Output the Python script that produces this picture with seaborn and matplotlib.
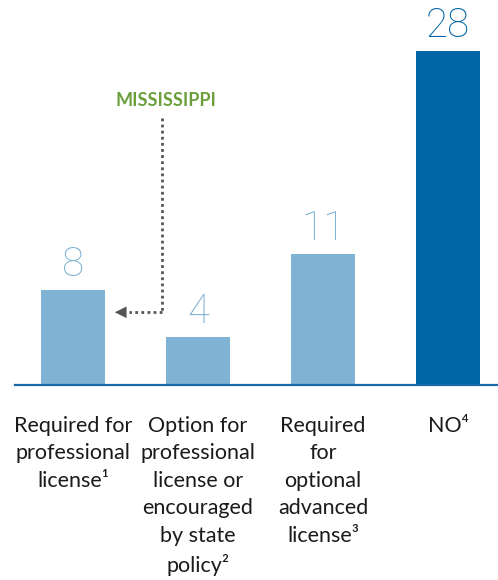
import matplotlib
matplotlib.use("Agg")
import matplotlib.pyplot as plt
import seaborn as sns
import pandas as pd

categories = [
    "Required for\nprofessional\nlicense\u00b9",
    "Option for\nprofessional\nlicense or\nencouraged\nby state\npolicy\u00b2",
    "Required\nfor\noptional\nadvanced\nlicense\u00b3",
    "NO\u2074",
]
counts = [8, 4, 11, 28]
bar_colors = ["#7fb2d3", "#7fb2d3", "#7fb2d3", "#0066a6"]
label_colors = ["#7fb2d3", "#7fb2d3", "#7fb2d3", "#0066a6"]
callout_text = "MISSISSIPPI"

sns.set_theme(style="white")
plt.rcParams["font.family"] = ["Lato", "DejaVu Sans"]

df = pd.DataFrame({"category": categories, "count": counts})

fig = plt.figure(figsize=(4.98, 5.8), dpi=100)
ax = fig.add_axes([15 / 498, 195 / 580, 483 / 498, 385 / 580])

sns.barplot(data=df, x="category", y="count", hue="category",
            palette=bar_colors, width=0.51, legend=False, ax=ax,
            saturation=1, linewidth=0)

ax.set_xlim(-0.464, 3.4)
ax.set_ylim(0, 32.3)

for i, (v, c) in enumerate(zip(counts, label_colors)):
    ax.text(i, v + 0.5, str(v), ha="center", va="bottom",
            fontsize=29, color=c, family=["Roboto", "DejaVu Sans"],
            fontweight="light")

for s in ["top", "right", "left"]:
    ax.spines[s].set_visible(False)
ax.spines["bottom"].set_color("#1a6aa8")
ax.spines["bottom"].set_linewidth(1.6)

ax.set_xlabel("")
ax.set_ylabel("")
ax.set_yticks([])
ax.tick_params(axis="x", length=0, pad=22)
for lbl in ax.get_xticklabels():
    lbl.set_fontsize(15.5)
    lbl.set_color("#1a1a1a")
    lbl.set_multialignment("center")
    lbl.set_verticalalignment("top")
    lbl.set_linespacing(1.47)

# callout: label, dotted leader and arrow pointing at the first bar
x_leader = 0.71
y_top = 22.4
y_arrow = 6.1
ax.text(x_leader + 0.03, 23.9, callout_text, ha="center", va="center",
        fontsize=13, fontweight="bold", color="#6a9f3c")
ax.plot([x_leader, x_leader], [y_top, y_arrow], color="#555555",
        linestyle=(0, (1, 1.2)), linewidth=2)
ax.plot([x_leader, 0.45], [y_arrow, y_arrow], color="#555555",
        linestyle=(0, (1, 1.2)), linewidth=2)
ax.annotate("", xy=(0.335, y_arrow), xytext=(0.45, y_arrow),
            arrowprops=dict(arrowstyle="-|>,head_length=0.7,head_width=0.35",
                            color="#555555", linewidth=0,
                            shrinkA=0, shrinkB=0))

fig.savefig("out.png", dpi=100)
